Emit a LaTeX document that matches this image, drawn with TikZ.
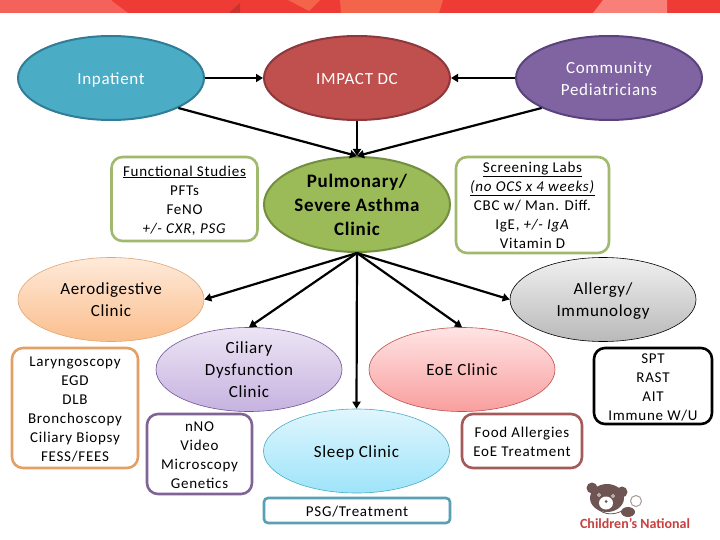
\documentclass[tikz,border=0pt]{standalone}
\usepackage{fontspec}
\setmainfont{Carlito}
\newfontfamily\ovalfont[LetterSpace=4]{Carlito}
\newfontfamily\boxfont[LetterSpace=5]{Carlito}
\newfontfamily\headfont[LetterSpace=3.5]{Carlito}
\usetikzlibrary{shapes.geometric,arrows.meta}
\definecolor{bandred}{HTML}{EE3B35}
\definecolor{bandlight}{HTML}{F4625B}
\definecolor{bandorange}{HTML}{F4644A}
\definecolor{bandpink}{HTML}{F98078}
\definecolor{bear}{HTML}{6E5452}
\newcommand{\lowered}[1]{\makebox[0pt]{\raisebox{\dimexpr-0.25em-1.7pt\relax}[0pt][0pt]{\begin{tabular}{@{}c@{}}#1\end{tabular}}}}
\tikzset{
  oval/.style={ellipse,draw,inner sep=0pt,minimum width=186pt,minimum height=84pt,align=center,font=\ovalfont\fontsize{17}{22}\selectfont},
  solidoval/.style={oval,line width=2pt,text=white},
  softoval/.style={oval,line width=0.6pt},
  infobox/.style={draw,rounded corners=11pt,line width=2.6pt,inner sep=0pt,align=center,font=\boxfont\fontsize{15}{19}\selectfont},
  link/.style={line width=2.2pt,-{Triangle[length=7pt,width=8pt]}}
}
\begin{document}
\begin{tikzpicture}[x=1pt,y=-1pt]
\useasboundingbox (0,0) rectangle (720,540);
\fill[white] (0,0) rectangle (720,540);
% top band
\fill[bandred] (0,0) rectangle (720,13);
\fill[bandlight] (0,0) -- (46,0) arc[start angle=180,end angle=360,x radius=32.5,y radius=12.5] -- (112,1) -- (128,13) -- (0,13) -- cycle;
\fill[bandred!85!black] (229,13) -- (240,3) -- (240,13) -- cycle;
\fill[bandorange] (288,0) -- (320,0) -- (309,11) -- cycle;
\fill[bandorange] (340,0) -- (443,0) -- (439,13) -- (341,13) -- cycle;
\fill[bandpink] (603,0) -- (667,0) -- (667,13) -- (593,13) -- cycle;
% ovals
\node[solidoval,fill={rgb,255:red,75;green,172;blue,198},draw={rgb,255:red,49;green,124;blue,150}] (inp) at (111,78) {\lowered{Inpatient}};
\node[solidoval,fill={rgb,255:red,192;green,80;blue,77},draw={rgb,255:red,140;green,56;blue,60}] (imp) at (357,78) {\lowered{IMPACT DC}};
\node[solidoval,fill={rgb,255:red,128;green,100;blue,162},draw={rgb,255:red,90;green,66;blue,125}] (com) at (609,78) {\lowered{Community\\Pediatricians}};
\node[oval,line width=2pt,minimum height=95pt,fill={rgb,255:red,155;green,187;blue,89},draw={rgb,255:red,115;green,142;blue,65},font=\headfont\fontsize{19}{24}\selectfont\bfseries] (pul) at (357,204.5) {\lowered{Pulmonary/\\Severe Asthma\\Clinic}};
\node[softoval,top color={rgb,255:red,254;green,234;blue,218},bottom color={rgb,255:red,251;green,190;blue,140},draw={rgb,255:red,225;green,165;blue,115}] (aer) at (111,299.5) {\lowered{Aerodigestive\\Clinic}};
\node[softoval,top color={rgb,255:red,240;green,240;blue,240},bottom color={rgb,255:red,185;green,185;blue,185},draw=black] (all) at (603,299.5) {\lowered{Allergy/\\Immunology}};
\node[softoval,top color={rgb,255:red,236;green,229;blue,244},bottom color={rgb,255:red,198;green,178;blue,224},draw={rgb,255:red,110;green,85;blue,150}] (cil) at (249,369.5) {\lowered{Ciliary\\Dysfunction\\Clinic}};
\node[softoval,top color={rgb,255:red,255;green,228;blue,228},bottom color={rgb,255:red,249;green,158;blue,158},draw={rgb,255:red,190;green,80;blue,77}] (eoe) at (462,369.5) {\lowered{EoE Clinic}};
\node[softoval,top color={rgb,255:red,224;green,246;blue,253},bottom color={rgb,255:red,158;green,228;blue,250},draw={rgb,255:red,75;green,172;blue,198}] (slp) at (356.5,451) {\lowered{Sleep Clinic}};
% boxes
\node[infobox,draw={rgb,255:red,160;green,185;blue,110},minimum width=146pt,minimum height=84pt] (fun) at (184.5,199) {\lowered{\underline{Functional Studies}\\PFTs\\FeNO\\\textit{+/- CXR, PSG}}};
\node[infobox,draw={rgb,255:red,160;green,185;blue,110},minimum width=153pt,minimum height=96pt] (scr) at (532.5,205) {\lowered{\underline{Screening Labs}\\\underline{\textit{(no OCS x 4 weeks)}}\\CBC w/ Man. Diff.\\IgE, \textit{+/- IgA}\\Vitamin D}};
\node[infobox,draw={rgb,255:red,226;green,160;blue,100},minimum width=126pt,minimum height=120pt] (lar) at (75,408) {\lowered{Laryngoscopy\\EGD\\DLB\\Bronchoscopy\\Ciliary Biopsy\\FESS/FEES}};
\node[infobox,draw={rgb,255:red,128;green,100;blue,150},minimum width=105pt,minimum height=80pt] (nno) at (199.5,454) {\lowered{nNO\\Video\\Microscopy\\Genetics}};
\node[infobox,draw={rgb,255:red,90;green,160;blue,180},minimum width=186pt,minimum height=25pt,rounded corners=4pt] (psg) at (357,510.5) {\lowered{PSG/Treatment}};
\node[infobox,draw={rgb,255:red,165;green,90;blue,90},minimum width=120pt,minimum height=54pt] (foo) at (522,441) {\lowered{Food Allergies\\EoE Treatment}};
\node[infobox,draw=black,minimum width=118pt,minimum height=76pt] (spt) at (653,386) {\lowered{SPT\\RAST\\AIT\\Immune W/U}};
% connectors
\draw[link] (inp) -- (imp);
\draw[link] (com) -- (imp);
\coordinate (pultop) at (pul.north);
\coordinate (pulbot) at (pul.south);
\draw[link] (inp.-24) -- (pultop);
\draw[link] (imp) -- (pultop);
\draw[link] (com.204) -- (pultop);
\draw[link] (pulbot) -- (aer.east);
\draw[link] (pulbot) -- (cil.north);
\draw[link] (pulbot) -- (slp.north);
\draw[link] (pulbot) -- (eoe.north);
\draw[link] (pulbot) -- (all.west);
% logo
\fill[bear] (592,488) circle (5.5);
\fill[bear] (622,492) circle (5.5);
\fill[bear] (607,498) ellipse (17 and 14);
\fill[white] (606,503) ellipse (7 and 6.5);
\fill[white] (599,495) circle (1.8);
\fill[white] (613,496) circle (1.8);
\fill[bear] (599,495) circle (0.9);
\fill[bear] (613,496) circle (0.9);
\fill[bear] (606,501.5) circle (1.5);
\draw[bear,line width=0.8pt] (593,503) .. controls (600,515) and (612,516) .. (622,511);
\fill[bear] (628,512) ellipse (7 and 5);
\draw[bear!60,line width=1pt] (636,501) circle (5.5);
\node[inner sep=0pt,text={rgb,255:red,200;green,64;blue,62},font=\fontsize{14}{14}\selectfont\bfseries] (brand) at (635,523.5) {Children's National};
\end{tikzpicture}
\end{document}
